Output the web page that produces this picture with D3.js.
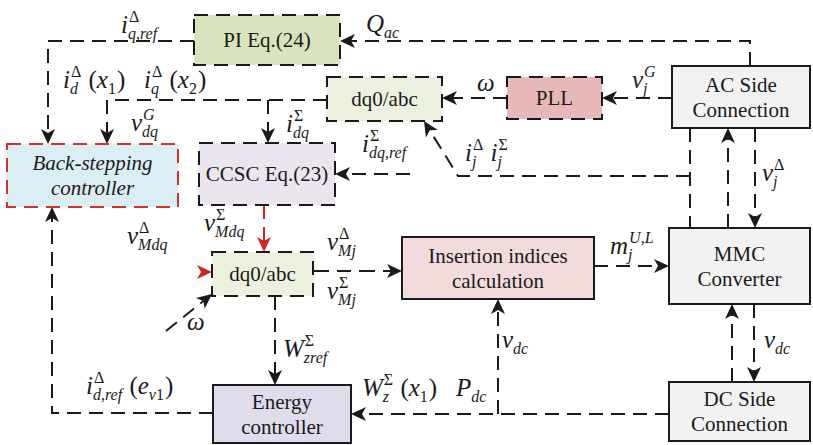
<!DOCTYPE html>
<html>
<head>
<meta charset="utf-8">
<script src="https://cdn.jsdelivr.net/npm/d3@7"></script>
<style>
  body { margin: 0; background: #fff; }
  svg { display: block; }
  text { font-family: "Liberation Serif", "Times New Roman", serif; fill: #1a1a1a; }
</style>
</head>
<body>
<svg id="chart" width="813" height="445"></svg>
<script>
// block names (text shown in each block)
const blockIds = ['pi', 'dq0Top', 'pll', 'ac', 'bs', 'ccsc', 'dq0Mid', 'ins', 'mmc', 'energy', 'dc'];
const blockLabels = [
    ['PI Eq.(24)'], ['dq0/abc'], ['PLL'], ['AC Side', 'Connection'],
    ['Back-stepping', 'controller'], ['CCSC Eq.(23)'], ['dq0/abc'],
    ['Insertion indices', 'calculation'], ['MMC', 'Converter'],
    ['Energy', 'controller'], ['DC Side', 'Connection']
];
// signal labels: base / superscript / subscript tokens
const signalLabels = [
    [{ b: 'i', sup: 'Δ', sub: 'q,ref' }],
    [{ b: 'Q', sub: 'ac' }],
    [{ b: 'i', sup: 'Δ', sub: 'd' }, { b: ' (x', sub: '1' }, { b: ')   i', sup: 'Δ', sub: 'q' }, { b: ' (x', sub: '2' }, { b: ')' }],
    [{ b: 'v', sup: 'G', sub: 'dq' }],
    [{ b: 'i', sup: 'Σ', sub: 'dq' }],
    [{ b: 'i', sup: 'Σ', sub: 'dq,ref' }],
    [{ b: 'ω' }],
    [{ b: 'v', sup: 'G', sub: 'j' }],
    [{ b: 'i', sup: 'Δ', sub: 'j' }, { b: ' i', sup: 'Σ', sub: 'j' }],
    [{ b: 'v', sup: 'Δ', sub: 'j' }],
    [{ b: 'v', sup: 'Δ', sub: 'Mdq' }],
    [{ b: 'v', sup: 'Σ', sub: 'Mdq' }],
    [{ b: 'v', sup: 'Δ', sub: 'Mj' }],
    [{ b: 'v', sup: 'Σ', sub: 'Mj' }],
    [{ b: 'm', sup: 'U,L', sub: 'j' }],
    [{ b: 'ω' }],
    [{ b: 'W', sup: 'Σ', sub: 'zref' }],
    [{ b: 'i', sup: 'Δ', sub: 'd,ref' }, { b: ' (e', sub: 'v1' }, { b: ')' }],
    [{ b: 'W', sup: 'Σ', sub: 'z' }, { b: ' (x', sub: '1' }, { b: ')   P', sub: 'dc' }],
    [{ b: 'v', sub: 'dc' }],
    [{ b: 'v', sub: 'dc' }]
];

// ---- layout (design grid units) ----
const blockBoxes = {
    pi:     { x: 194, y: 15,  w: 146, h: 50, fill: '#d8e4bd', stroke: '#1a1a1a', dashed: true },
    dq0Top: { x: 327, y: 77,  w: 115, h: 44, fill: '#ebf1de', stroke: '#1a1a1a', dashed: true },
    pll:    { x: 507, y: 77,  w: 95,  h: 42, fill: '#e6b9b8', stroke: '#1a1a1a', dashed: true },
    ac:     { x: 672, y: 66,  w: 138, h: 62, fill: '#f2f2f2', stroke: '#1a1a1a', dashed: false },
    bs:     { x: 7,   y: 144, w: 171, h: 63, fill: '#dbeef3', stroke: '#d0312d', dashed: true, italic: true },
    ccsc:   { x: 199, y: 143, w: 136, h: 62, fill: '#ebe5f0', stroke: '#1a1a1a', dashed: true },
    dq0Mid: { x: 212, y: 252, w: 101, h: 44, fill: '#ebf1de', stroke: '#1a1a1a', dashed: true },
    ins:    { x: 402, y: 237, w: 192, h: 62, fill: '#f2dcdb', stroke: '#1a1a1a', dashed: false },
    mmc:    { x: 669, y: 228, w: 141, h: 76, fill: '#f2f2f2', stroke: '#1a1a1a', dashed: false },
    energy: { x: 213, y: 385, w: 138, h: 58, fill: '#e1dcec', stroke: '#1a1a1a', dashed: false },
    dc:     { x: 669, y: 382, w: 141, h: 59, fill: '#f2f2f2', stroke: '#1a1a1a', dashed: false }
};

const links = [
    { p: [[750, 66], [750, 41], [340, 41]], arrow: true },
    { p: [[194, 41], [48, 41], [48, 144]], arrow: true },
    { p: [[327, 100], [107, 100], [107, 144]], arrow: true },
    { p: [[268, 100], [268, 143]], arrow: true },
    { p: [[507, 98], [442, 98]], arrow: true },
    { p: [[672, 98], [602, 98]], arrow: true },
    { p: [[410, 174], [335, 174]], arrow: true },
    { p: [[690, 176], [458, 176], [424, 121]], arrow: true },
    { p: [[690, 128], [690, 228]], arrow: false },
    { p: [[728, 228], [728, 128]], arrow: true },
    { p: [[755, 128], [755, 228]], arrow: true },
    { p: [[264, 205], [264, 252]], arrow: true, color: '#c8281e' },
    { p: [[204, 272], [212, 272]], arrow: true, color: '#c8281e', noLine: true },
    { p: [[166, 331], [212, 294]], arrow: true },
    { p: [[313, 271], [402, 271]], arrow: true, solidStart: 16 },
    { p: [[594, 266], [669, 266]], arrow: true },
    { p: [[275, 296], [275, 385]], arrow: true },
    { p: [[213, 413], [52, 413], [52, 207]], arrow: true },
    { p: [[669, 414], [351, 414]], arrow: true },
    { p: [[498, 414], [498, 299]], arrow: true },
    { p: [[732, 382], [732, 304]], arrow: true },
    { p: [[754, 304], [754, 382]], arrow: true }
];

const labelPos = [
    [121, 33], [366, 32], [63, 88], [131, 131], [286, 132], [362, 152],
    [477, 91], [632, 88], [465, 161], [762, 181], [127, 244], [204, 231],
    [327, 250], [327, 299], [610, 254], [187, 330], [283, 357], [86, 394],
    [362, 396], [502, 348], [764, 348]
];

const width = 813, height = 445;
const x = d3.scaleLinear().domain([0, 813]).range([0, width]);
const y = d3.scaleLinear().domain([0, 445]).range([0, height]);

const svg = d3.select('#chart');
const DASH = '14,8';

// connectors
const lineGen = d3.line().x(d => x(d[0])).y(d => y(d[1]));
const linkG = svg.append('g');
links.forEach(function (l) {
    let pts = l.p.map(d => d.slice());
    let n = pts.length;
    let a = pts[n - 2], b = pts[n - 1];
    let ang = Math.atan2(b[1] - a[1], b[0] - a[0]);
    if (l.arrow) {
        // pull the line back so it hides under the arrow head
        pts[n - 1] = [b[0] - 8 * Math.cos(ang), b[1] - 8 * Math.sin(ang)];
    }
    let col = l.color || '#1a1a1a';
    if (!l.noLine) {
        linkG.append('path')
            .attr('d', lineGen(pts))
            .attr('fill', 'none')
            .attr('stroke', col)
            .attr('stroke-width', 2)
            .attr('stroke-dasharray', l.solidStart ? (l.solidStart + ',8,' + DASH) : DASH);
    }
    if (l.arrow) {
        linkG.append('path')
            .attr('d', 'M0,0 L-15,-7 L-11,0 L-15,7 Z')
            .attr('fill', col)
            .attr('transform', 'translate(' + x(b[0]) + ',' + y(b[1]) + ') rotate(' + (ang * 180 / Math.PI) + ')');
    }
});

// blocks
const blockG = svg.selectAll('g.block')
    .data(blockIds)
    .enter()
    .append('g')
    .attr('class', 'block');
blockG.append('rect')
    .attr('x', d => x(blockBoxes[d].x))
    .attr('y', d => y(blockBoxes[d].y))
    .attr('width', d => x(blockBoxes[d].w) - x(0))
    .attr('height', d => y(blockBoxes[d].h) - y(0))
    .attr('fill', d => blockBoxes[d].fill)
    .attr('stroke', d => blockBoxes[d].stroke)
    .attr('stroke-width', 2)
    .attr('stroke-dasharray', d => blockBoxes[d].dashed ? DASH : null);
blockG.each(function (d, i) {
    let bx = blockBoxes[d];
    let lines = blockLabels[i];
    let cx = x(bx.x + bx.w / 2), cy = y(bx.y + bx.h / 2);
    let lh = 25;
    lines.forEach(function (t, k) {
        d3.select(this).append('text')
            .attr('x', cx)
            .attr('y', cy + (k - (lines.length - 1) / 2) * lh)
            .attr('text-anchor', 'middle')
            .attr('dominant-baseline', 'central')
            .style('font-size', '21px')
            .style('font-style', bx.italic ? 'italic' : 'normal')
            .text(t);
    }, this);
});

// math-like labels: letters italic, digits / greek capitals / punctuation upright
function addRuns(textSel, str) {
    str.split(/([A-Za-zω]+)/).forEach(function (part) {
        if (!part) return;
        textSel.append('tspan')
            .style('font-style', /[A-Za-zω]/.test(part) ? 'italic' : 'normal')
            .text(part);
    });
}
const labelG = svg.append('g');
signalLabels.forEach(function (tokens, i) {
    let px = x(labelPos[i][0]), py = y(labelPos[i][1]);
    tokens.forEach(function (t) {
        let base = labelG.append('text').attr('x', px).attr('y', py)
            .style('font-size', '25px').style('white-space', 'pre');
        addRuns(base, t.b);
        let w = base.node().getComputedTextLength();
        let extra = 0;
        if (t.sup) {
            let s = labelG.append('text').attr('x', px + w + 1).attr('y', py - 11)
                .style('font-size', '16px');
            addRuns(s, t.sup);
            extra = Math.max(extra, s.node().getComputedTextLength() + 1);
        }
        if (t.sub) {
            let s = labelG.append('text').attr('x', px + w).attr('y', py + 6)
                .style('font-size', '16px');
            addRuns(s, t.sub);
            extra = Math.max(extra, s.node().getComputedTextLength());
        }
        px += w + extra + 1;
    });
});
</script>
</body>
</html>
